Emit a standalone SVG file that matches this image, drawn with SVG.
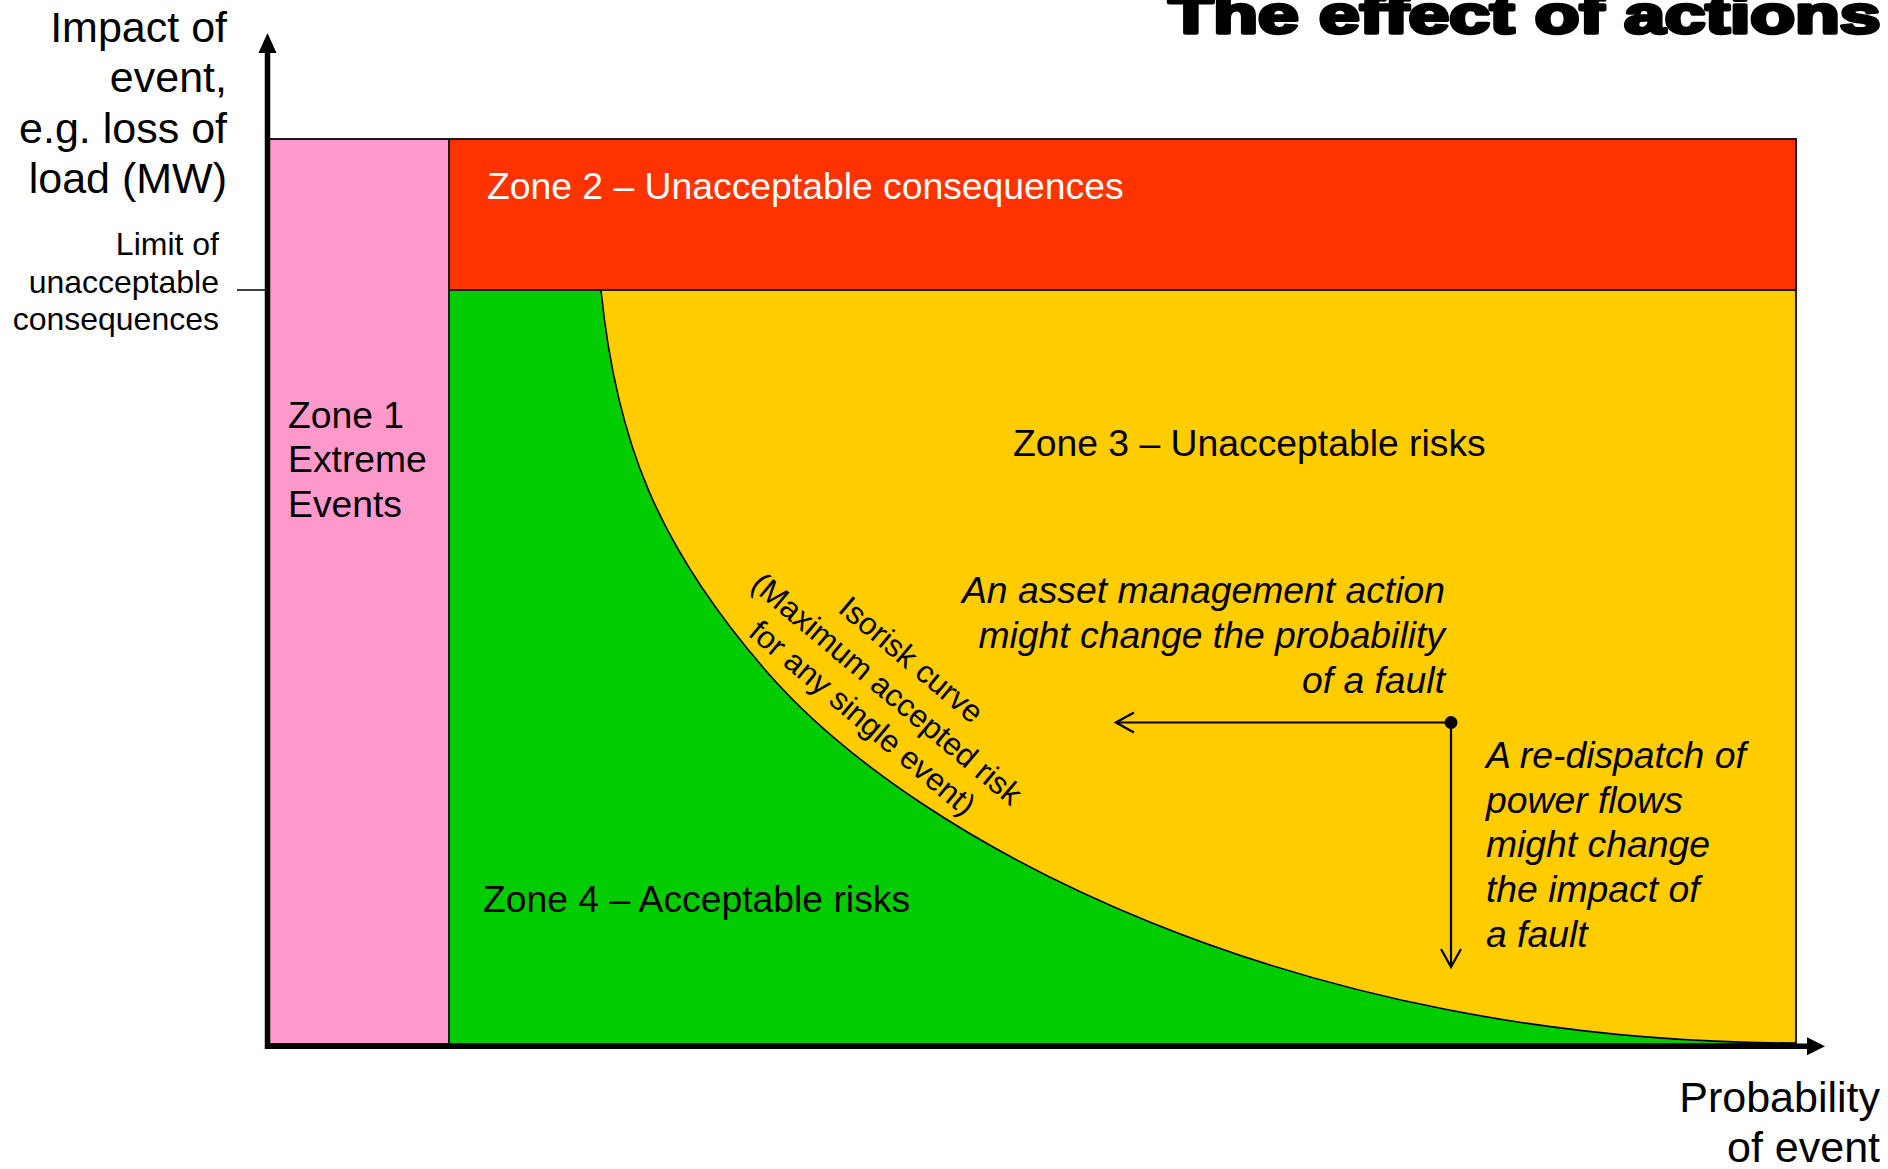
<svg xmlns="http://www.w3.org/2000/svg" width="1888" height="1169" viewBox="0 0 1888 1169">
  <defs>
    <style>
      text { font-family: "Liberation Sans", Arial, Helvetica, sans-serif; fill: #000; }
      .axis-label { font-size: 43px; }
      .small { font-size: 32px; }
      .iso { font-size: 31.5px; }
      .zone { font-size: 37.3px; }
      .note { font-size: 37.3px; font-style: italic; }
      .title { font-size: 51px; font-weight: bold; stroke: #000; stroke-width: 3.5; stroke-linejoin: round; }
      .edge { stroke: #1a1a1a; stroke-width: 2; }
      .axis { stroke: #000; stroke-width: 5.5; fill: none; }
      .link { stroke: #000; stroke-width: 2.2; fill: none; }
    </style>
    <marker id="chevron" viewBox="-20 -12 22 24" markerWidth="22" markerHeight="24" refX="0" refY="0" orient="auto" markerUnits="userSpaceOnUse">
      <path d="M-18,-10 L0,0 L-18,10" fill="none" stroke="#000" stroke-width="2.2"/>
    </marker>
  </defs>

  <rect width="1888" height="1169" fill="#fff"/>

  <!-- title, partly above the top edge -->
  <g id="title">
    <text class="title" x="1168.5" y="32.5" textLength="712" lengthAdjust="spacingAndGlyphs">The effect of actions</text>
  </g>

  <!-- zones -->
  <g id="zone1">
    <rect class="edge" x="268" y="139" width="181" height="905" fill="#FF99CC"/>
    <text class="zone" x="288" y="428">Zone 1</text>
    <text class="zone" x="288" y="472">Extreme</text>
    <text class="zone" x="288" y="517">Events</text>
  </g>

  <g id="zone2">
    <rect class="edge" x="449" y="139" width="1347" height="151" fill="#FF3300"/>
    <text class="zone" x="487" y="199" style="fill:#fff">Zone 2 – Unacceptable consequences</text>
  </g>

  <g id="zone3">
    <rect class="edge" x="449" y="290" width="1347" height="754" fill="#FFCC00"/>
    <text class="zone" x="1013" y="456">Zone 3 – Unacceptable risks</text>
  </g>

  <g id="zone4">
    <path d="M449,290 L601,290 C616,440 657,545.5 767,672 C917,844.5 1296,1043 1796,1043 L449,1043 Z" fill="#00CC00"/>
    <line class="edge" x1="449" y1="290" x2="449" y2="1044"/>
    <line class="edge" x1="449" y1="290" x2="601" y2="290"/>
    <text class="zone" x="483" y="912">Zone 4 – Acceptable risks</text>
  </g>

  <!-- isorisk curve and its label -->
  <g id="isorisk">
    <path d="M601,290 C616,440 657,545.5 767,672 C917,844.5 1296,1043 1796,1043" fill="none" stroke="#000" stroke-width="1.6"/>
    <g transform="translate(880,697) rotate(40)">
      <text class="iso" x="0" y="-38" text-anchor="middle">Isorisk curve</text>
      <text class="iso" x="0" y="0" text-anchor="middle">(Maximum accepted risk</text>
      <text class="iso" x="0" y="38" text-anchor="middle">for any single event)</text>
    </g>
  </g>

  <!-- axes -->
  <g id="y-axis">
    <line class="axis" x1="267.5" y1="1049" x2="267.5" y2="50"/>
    <polygon points="267.5,33 258.5,53 276.5,53" fill="#000"/>
    <line x1="237" y1="290" x2="266" y2="290" stroke="#000" stroke-width="1.5"/>
    <text class="axis-label" x="227" y="42" text-anchor="end">Impact of</text>
    <text class="axis-label" x="227" y="92" text-anchor="end">event,</text>
    <text class="axis-label" x="227" y="143" text-anchor="end">e.g. loss of</text>
    <text class="axis-label" x="227" y="193" text-anchor="end">load (MW)</text>
    <text class="small" x="219" y="255" text-anchor="end">Limit of</text>
    <text class="small" x="219" y="293" text-anchor="end">unacceptable</text>
    <text class="small" x="219" y="330" text-anchor="end">consequences</text>
  </g>

  <g id="x-axis">
    <line class="axis" x1="265" y1="1046.3" x2="1809" y2="1046.3"/>
    <polygon points="1825,1046.3 1807,1037.3 1807,1055.3" fill="#000"/>
    <text class="axis-label" x="1880" y="1112" text-anchor="end">Probability</text>
    <text class="axis-label" x="1880" y="1162" text-anchor="end">of event</text>
  </g>

  <!-- the two possible actions, starting from a common point -->
  <g id="connectors">
    <line class="link" x1="1451" y1="722.5" x2="1116" y2="722.5" marker-end="url(#chevron)"/>
    <line class="link" x1="1451" y1="722.5" x2="1451" y2="967" marker-end="url(#chevron)"/>
    <circle cx="1451" cy="722.5" r="6.5" fill="#000"/>
  </g>

  <g id="asset-note">
    <text class="note" x="1445" y="603" text-anchor="end">An asset management action</text>
    <text class="note" x="1445" y="648" text-anchor="end">might change the probability</text>
    <text class="note" x="1445" y="693" text-anchor="end">of a fault</text>
  </g>

  <g id="dispatch-note">
    <text class="note" x="1486" y="768">A re-dispatch of</text>
    <text class="note" x="1486" y="813">power flows</text>
    <text class="note" x="1486" y="857">might change</text>
    <text class="note" x="1486" y="902">the impact of</text>
    <text class="note" x="1486" y="947">a fault</text>
  </g>
</svg>
